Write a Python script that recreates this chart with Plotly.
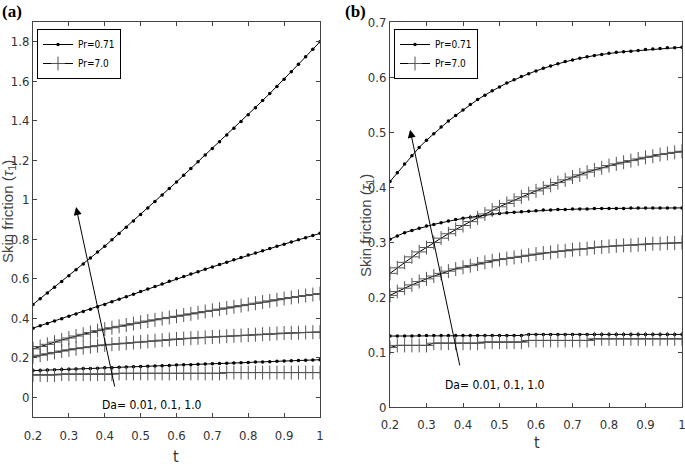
import plotly.graph_objects as go

T = [0.20, 0.22, 0.24, 0.26, 0.28, 0.30, 0.32, 0.34, 0.36, 0.38,
     0.40, 0.42, 0.44, 0.46, 0.48, 0.50, 0.52, 0.54, 0.56, 0.58,
     0.60, 0.62, 0.64, 0.66, 0.68, 0.70, 0.72, 0.74, 0.76, 0.78,
     0.80, 0.82, 0.84, 0.86, 0.88, 0.90, 0.92, 0.94, 0.96, 0.98, 1.00]

# Panel (a)
a_pr071_da1 = [0.470, 0.499, 0.528, 0.557, 0.586, 0.615, 0.645, 0.675, 0.705, 0.735,
               0.765, 0.797, 0.829, 0.861, 0.893, 0.925, 0.958, 0.991, 1.024, 1.057,
               1.090, 1.124, 1.158, 1.192, 1.226, 1.260, 1.294, 1.328, 1.362, 1.396,
               1.430, 1.466, 1.502, 1.538, 1.574, 1.610, 1.648, 1.686, 1.724, 1.762, 1.800]
a_pr071_da01 = [0.350, 0.362, 0.374, 0.386, 0.398, 0.410, 0.422, 0.434, 0.446, 0.458,
                0.470, 0.483, 0.496, 0.509, 0.522, 0.535, 0.548, 0.561, 0.574, 0.587,
                0.600, 0.612, 0.624, 0.636, 0.648, 0.660, 0.672, 0.684, 0.696, 0.708,
                0.720, 0.731, 0.742, 0.753, 0.764, 0.775, 0.786, 0.797, 0.808, 0.819, 0.830]
a_pr071_da001 = [0.135, 0.136, 0.138, 0.139, 0.141, 0.142, 0.143, 0.145, 0.146, 0.147,
                 0.149, 0.150, 0.152, 0.153, 0.154, 0.156, 0.157, 0.158, 0.160, 0.161,
                 0.163, 0.164, 0.165, 0.167, 0.168, 0.169, 0.171, 0.172, 0.174, 0.175,
                 0.176, 0.178, 0.179, 0.180, 0.182, 0.183, 0.185, 0.186, 0.187, 0.189, 0.190]
a_pr7_da1 = [0.245, 0.257, 0.268, 0.279, 0.290, 0.300, 0.310, 0.319, 0.328, 0.337,
             0.345, 0.352, 0.359, 0.366, 0.373, 0.380, 0.386, 0.392, 0.398, 0.404,
             0.410, 0.416, 0.422, 0.428, 0.434, 0.440, 0.446, 0.452, 0.458, 0.464,
             0.470, 0.476, 0.482, 0.488, 0.494, 0.500, 0.505, 0.510, 0.515, 0.520, 0.525]
a_pr7_da01 = [0.205, 0.213, 0.220, 0.227, 0.234, 0.240, 0.246, 0.251, 0.256, 0.261,
              0.265, 0.268, 0.271, 0.274, 0.277, 0.280, 0.283, 0.286, 0.289, 0.292,
              0.295, 0.297, 0.299, 0.301, 0.303, 0.305, 0.307, 0.309, 0.311, 0.313,
              0.315, 0.317, 0.319, 0.321, 0.323, 0.325, 0.326, 0.327, 0.328, 0.329, 0.330]
a_pr7_da001 = [0.113, 0.113, 0.113, 0.113,
               0.117, 0.117, 0.117, 0.117, 0.117, 0.117, 0.117, 0.117,
               0.121, 0.121, 0.121, 0.121, 0.121, 0.121, 0.121, 0.121, 0.121, 0.121,
               0.121, 0.121, 0.121, 0.121, 0.121,
               0.125, 0.125, 0.125, 0.125, 0.125, 0.125, 0.125, 0.125, 0.125, 0.125,
               0.125, 0.125, 0.125, 0.125]

# Panel (b)
b_pr071_da1 = [0.410, 0.426, 0.442, 0.457, 0.472, 0.485, 0.497, 0.509, 0.520, 0.530,
               0.540, 0.550, 0.559, 0.567, 0.575, 0.582, 0.589, 0.595, 0.601, 0.606,
               0.611, 0.616, 0.620, 0.624, 0.628, 0.631, 0.634, 0.637, 0.639, 0.641,
               0.643, 0.645, 0.646, 0.647, 0.648, 0.650, 0.651, 0.652, 0.653, 0.653, 0.654]
b_pr071_da01 = [0.305, 0.311, 0.317, 0.321, 0.325, 0.329, 0.332, 0.335, 0.338, 0.341,
                0.343, 0.345, 0.347, 0.349, 0.351, 0.352, 0.353, 0.354, 0.355, 0.356,
                0.357, 0.358, 0.358, 0.359, 0.359, 0.360, 0.360, 0.360, 0.361, 0.361,
                0.361, 0.361, 0.361, 0.362, 0.362, 0.362, 0.362, 0.362, 0.362, 0.362, 0.362]
b_pr071_da001 = [0.129, 0.129, 0.129, 0.129,
                 0.130, 0.130, 0.130, 0.130, 0.130, 0.130, 0.130, 0.130, 0.130, 0.130,
                 0.130, 0.130, 0.130, 0.130, 0.130,
                 0.132, 0.132, 0.132, 0.132, 0.132, 0.132, 0.132, 0.132, 0.132, 0.132,
                 0.132, 0.132, 0.132, 0.132, 0.132, 0.132, 0.132, 0.132, 0.132, 0.132,
                 0.132, 0.132]
b_pr7_da1 = [0.243, 0.253, 0.263, 0.273, 0.282, 0.290, 0.299, 0.307, 0.315, 0.323,
             0.330, 0.337, 0.344, 0.351, 0.358, 0.364, 0.370, 0.376, 0.382, 0.388,
             0.393, 0.398, 0.403, 0.408, 0.413, 0.418, 0.422, 0.427, 0.431, 0.435,
             0.439, 0.442, 0.445, 0.448, 0.451, 0.454, 0.456, 0.459, 0.461, 0.463, 0.465]
b_pr7_da01 = [0.203, 0.210, 0.216, 0.222, 0.228, 0.233, 0.238, 0.243, 0.247, 0.251,
              0.254, 0.257, 0.260, 0.263, 0.266, 0.268, 0.270, 0.272, 0.274, 0.276,
              0.278, 0.280, 0.281, 0.283, 0.284, 0.286, 0.287, 0.288, 0.290, 0.291,
              0.292, 0.293, 0.294, 0.294, 0.295, 0.296, 0.297, 0.297, 0.298, 0.298, 0.299]
b_pr7_da001 = [0.108,
               0.112, 0.112, 0.112, 0.112, 0.112,
               0.116, 0.116, 0.116, 0.116, 0.116, 0.116, 0.116,
               0.118, 0.118, 0.118, 0.118, 0.118, 0.118,
               0.121, 0.121, 0.121, 0.121, 0.121, 0.121, 0.121, 0.121, 0.121,
               0.124, 0.124, 0.124, 0.124, 0.124, 0.124, 0.124, 0.124, 0.124, 0.124,
               0.124, 0.124, 0.124]

LEG_LABELS = ["Pr=0.71", "Pr=7.0"]
DA_TEXT = "Da= 0.01, 0.1, 1.0"
YTITLE = "Skin friction (<i>τ</i><sub>1</sub>)"

NARROW = "DejaVu Sans Condensed, Liberation Sans Narrow, Arial Narrow, Liberation Sans"
W, H = 685, 466

dot_marker = dict(symbol="circle", size=3.5, color="black")
plus_marker = dict(symbol="cross-thin", size=10, color="#555",
                   line=dict(width=1, color="#555"))

fig = go.Figure()

panels = [
    ("x", "y", "legend", [a_pr071_da1, a_pr071_da01, a_pr071_da001],
     [a_pr7_da1, a_pr7_da01, a_pr7_da001]),
    ("x2", "y2", "legend2", [b_pr071_da1, b_pr071_da01, b_pr071_da001],
     [b_pr7_da1, b_pr7_da01, b_pr7_da001]),
]
for xa, ya, leg, s071, s7 in panels:
    for i, ys in enumerate(s071):
        fig.add_trace(go.Scatter(x=T, y=ys, mode="lines+markers", xaxis=xa, yaxis=ya,
                                 line=dict(color="black", width=1), marker=dot_marker,
                                 name=LEG_LABELS[0], showlegend=(i == 0), legend=leg,
                                 legendgroup=leg + "a"))
    for i, ys in enumerate(s7):
        fig.add_trace(go.Scatter(x=T, y=ys, mode="lines+markers", xaxis=xa, yaxis=ya,
                                 line=dict(color="black", width=1), marker=plus_marker,
                                 name=LEG_LABELS[1], showlegend=(i == 0), legend=leg,
                                 legendgroup=leg + "b"))

axis_common = dict(showline=True, mirror="ticks", ticks="inside", ticklen=4,
                   linecolor="#444", tickcolor="#444", linewidth=1, showgrid=False,
                   zeroline=False, automargin=False, ticklabeloverflow="allow",
                   tickfont=dict(family=NARROW, size=13, color="#333"))

fig.update_layout(
    width=W, height=H, margin=dict(l=0, r=0, t=0, b=0, autoexpand=False),
    paper_bgcolor="white", plot_bgcolor="white",
    xaxis=dict(domain=[33 / W, 320 / W], range=[0.2, 1], anchor="y",
               tickvals=[0.2, 0.3, 0.4, 0.5, 0.6, 0.7, 0.8, 0.9, 1.0],
               ticklabelstandoff=6, **axis_common),
    yaxis=dict(domain=[49 / H, 444 / H], range=[-0.1, 1.9], anchor="x",
               tickvals=[0, 0.2, 0.4, 0.6, 0.8, 1.0, 1.2, 1.4, 1.6, 1.8], **axis_common),
    xaxis2=dict(domain=[390 / W, 682 / W], range=[0.2, 1], anchor="y2",
                tickvals=[0.2, 0.3, 0.4, 0.5, 0.6, 0.7, 0.8, 0.9, 1.0],
                ticklabelstandoff=5, **axis_common),
    yaxis2=dict(domain=[59 / H, 444 / H], range=[0, 0.7], anchor="x2",
                tickvals=[0, 0.1, 0.2, 0.3, 0.4, 0.5, 0.6, 0.7], **axis_common),
    legend=dict(x=37 / W, y=1 - 29 / H, xanchor="left", yanchor="top",
                bordercolor="black", borderwidth=1, bgcolor="white",
                font=dict(family=NARROW, size=10, color="black"),
                itemwidth=30, tracegroupgap=0),
    legend2=dict(x=394 / W, y=1 - 29 / H, xanchor="left", yanchor="top",
                 bordercolor="black", borderwidth=1, bgcolor="white",
                 font=dict(family=NARROW, size=10, color="black"),
                 itemwidth=30, tracegroupgap=0),
)

ann = []
# panel letters
ann.append(dict(text="<b>(a)</b>", x=0 / W, y=1 - 12 / H, xref="paper", yref="paper",
                xanchor="left", yanchor="middle", showarrow=False,
                font=dict(family="Liberation Serif", size=17, color="black")))
ann.append(dict(text="<b>(b)</b>", x=343 / W, y=1 - 12 / H, xref="paper", yref="paper",
                xanchor="left", yanchor="middle", showarrow=False,
                font=dict(family="Liberation Serif", size=17, color="black")))
# y titles
for xp, yp in [(8, 212), (366, 225)]:
    ann.append(dict(text=YTITLE, x=xp / W, y=1 - yp / H, xref="paper", yref="paper",
                    textangle=-90, showarrow=False, xanchor="center", yanchor="middle",
                    font=dict(family="Liberation Sans, Arial", size=15, color="#444")))
# x titles
for xp, yp in [(176, 456), (537, 442)]:
    ann.append(dict(text="t", x=xp / W, y=1 - yp / H, xref="paper", yref="paper",
                    showarrow=False, xanchor="center", yanchor="middle",
                    font=dict(family=NARROW, size=16, color="#333")))
# Da labels
ann.append(dict(text=DA_TEXT, x=0.387, y=-0.039, xref="x", yref="y", xanchor="left",
                yanchor="middle", showarrow=False,
                font=dict(family=NARROW, size=12, color="black")))
ann.append(dict(text=DA_TEXT, x=0.345, y=0.04, xref="x2", yref="y2", xanchor="left",
                yanchor="middle", showarrow=False,
                font=dict(family=NARROW, size=12, color="black")))
# arrows
ann.append(dict(text="", x=0.32, y=0.963, ax=0.4286, ay=0.047, xref="x", yref="y",
                axref="x", ayref="y", showarrow=True, arrowhead=2, arrowsize=1.6,
                arrowwidth=1, arrowcolor="black"))
ann.append(dict(text="", x=0.255, y=0.504, ax=0.392, ay=0.073, xref="x2", yref="y2",
                axref="x2", ayref="y2", showarrow=True, arrowhead=2, arrowsize=1.6,
                arrowwidth=1, arrowcolor="black"))
fig.update_layout(annotations=ann)

fig.write_html("out.html", config={"displayModeBar": False},
               post_script="document.body.style.margin='0px';"
                           "document.body.style.padding='0px';")
